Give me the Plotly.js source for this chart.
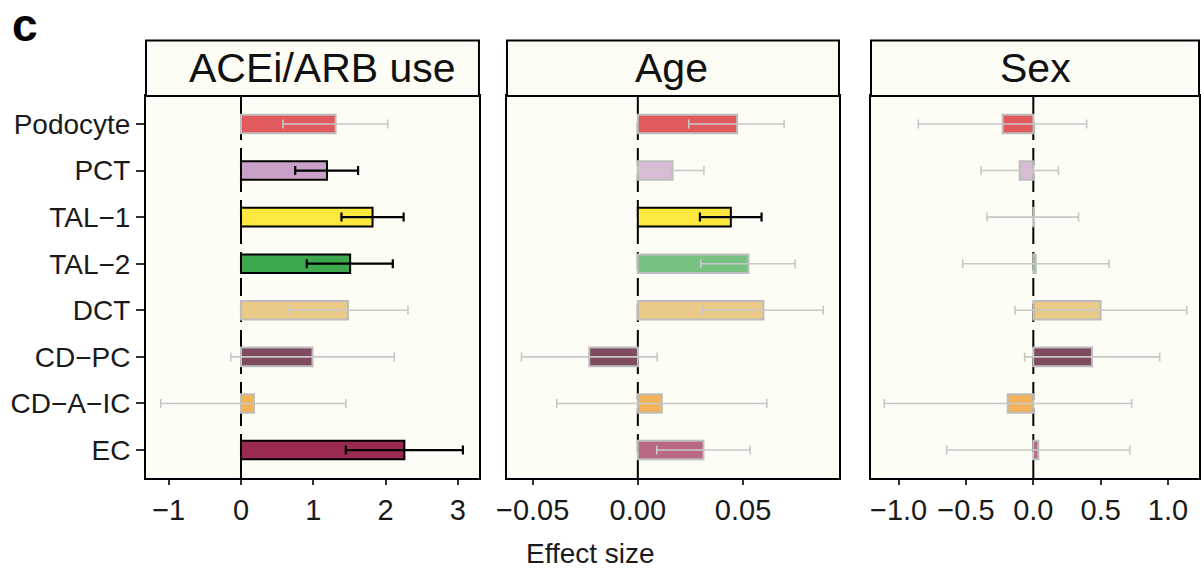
<!DOCTYPE html>
<html>
<head>
<meta charset="utf-8">
<script src="https://cdn.plot.ly/plotly-3.0.1.min.js"></script>
<style>html,body{margin:0;padding:0;background:#fff;}#chart{width:1201px;height:571px;}</style>
</head>
<body>
<div id="chart"></div>
<script>
// ---- data ----
const cellTypes = ['Podocyte','PCT','TAL\u22121','TAL\u22122','DCT','CD\u2212PC','CD\u2212A\u2212IC','EC'];
const panelTitles = ['ACEi/ARB use','Age','Sex'];
const axisTitle = 'Effect size';
const panelLabel = 'c';

const aceiEst = [1.31, 1.19, 1.82, 1.51, 1.48, 0.99, 0.18, 2.26];
const aceiLo  = [0.58, 0.75, 1.39, 0.91, 0.65, -0.14, -1.11, 1.45];
const aceiHi  = [2.03, 1.62, 2.25, 2.10, 2.31, 2.12, 1.45, 3.07];
const aceiSig = [false, true, true, true, false, false, false, true];

const ageEst = [0.0472, 0.0165, 0.0442, 0.0526, 0.0597, -0.0231, 0.0114, 0.0312];
const ageLo  = [0.0242, 0.0006, 0.0295, 0.0299, 0.0309, -0.0553, -0.0385, 0.0090];
const ageHi  = [0.0695, 0.0314, 0.0588, 0.0748, 0.0881, 0.0092, 0.0613, 0.0534];
const ageSig = [false, false, true, false, false, false, false, false];

const sexEst = [-0.227, -0.101, 0.004, 0.018, 0.500, 0.436, -0.190, 0.037];
const sexLo  = [-0.854, -0.388, -0.344, -0.524, -0.136, -0.064, -1.106, -0.643];
const sexHi  = [0.396, 0.186, 0.336, 0.562, 1.139, 0.938, 0.730, 0.716];
const sexSig = [false, false, false, false, false, false, false, false];

const aceiTicks = [-1, 0, 1, 2, 3];
const ageTicks = [-0.05, 0, 0.05];
const sexTicks = [-1, -0.5, 0, 0.5, 1];

// ---- style ----
const baseRGB = [[212,20,30],[200,160,200],[253,232,64],[61,168,78],[226,179,91],[72,0,31],[237,147,26],[155,42,82]];
const nsAlpha = 0.7;
const FONT = 'Liberation Sans, Arial, Helvetica, sans-serif';
const BG = '#FDFDF6';
const XTICKSIZE = 29;
const YTICKSIZE = 28;

const panels = [
  {est: aceiEst, lo: aceiLo, hi: aceiHi, sig: aceiSig, ticks: aceiTicks, fmt: 'd', range: [-1.314, 3.292], dom: [0, 0.3162]},
  {est: ageEst, lo: ageLo, hi: ageHi, sig: ageSig, ticks: ageTicks, fmt: '.2f', range: [-0.0622, 0.0956], dom: [0.3428, 0.6581]},
  {est: sexEst, lo: sexLo, hi: sexHi, sig: sexSig, ticks: sexTicks, fmt: '.1f', range: [-1.205, 1.230], dom: [0.6885, 1]}
];

const traces = [];
const layout = {
  width: 1201, height: 571,
  margin: {l: 146, r: 2, t: 96, b: 93},
  paper_bgcolor: '#ffffff',
  plot_bgcolor: BG,
  barmode: 'overlay',
  showlegend: false,
  font: {family: FONT, size: XTICKSIZE, color: '#1a1a1a'},
  shapes: [], annotations: []
};

panels.forEach((p, k) => {
  const xa = k === 0 ? 'x' : 'x' + (k + 1);
  const ya = k === 0 ? 'y' : 'y' + (k + 1);
  [true, false].forEach(flag => {
    const idx = cellTypes.map((c, i) => i).filter(i => p.sig[i] === flag);
    if (!idx.length) return;
    traces.push({
      type: 'bar', orientation: 'h', xaxis: xa, yaxis: ya,
      y: idx.map(i => cellTypes[i]),
      x: idx.map(i => p.est[i]),
      width: 0.4,
      marker: {
        color: idx.map(i => flag ? `rgb(${baseRGB[i].join(',')})` : `rgba(${baseRGB[i].join(',')},${nsAlpha})`),
        line: {color: flag ? '#000000' : '#BDBDBD', width: 2}
      },
      error_x: {
        type: 'data', symmetric: false,
        array: idx.map(i => p.hi[i] - p.est[i]),
        arrayminus: idx.map(i => p.est[i] - p.lo[i]),
        color: flag ? '#000000' : '#C8C8C8',
        thickness: flag ? 2.2 : 1.6,
        width: 4.5
      },
      hoverinfo: 'x+y'
    });
  });
  const axKey = k === 0 ? 'xaxis' : 'xaxis' + (k + 1);
  const ayKey = k === 0 ? 'yaxis' : 'yaxis' + (k + 1);
  layout[axKey] = {
    domain: p.dom, anchor: ya, range: p.range, autorange: false,
    tickmode: 'array', tickvals: p.ticks, tickformat: p.fmt,
    ticks: 'outside', ticklen: 5, tickwidth: 2, tickcolor: '#333333',
    showline: true, linecolor: '#000000', linewidth: 2, mirror: true,
    showgrid: false, zeroline: false,
    tickfont: {family: FONT, size: XTICKSIZE, color: '#1a1a1a'}
  };
  layout[ayKey] = {
    anchor: xa, domain: [0, 1],
    type: 'category', categoryorder: 'array', categoryarray: cellTypes,
    range: [7.6, -0.6], autorange: false,
    showline: true, linecolor: '#000000', linewidth: 2, mirror: true,
    showgrid: false, zeroline: false,
    ticks: k === 0 ? 'outside' : '', ticklen: 8, tickwidth: 2, tickcolor: '#333333',
    showticklabels: k === 0,
    ticklabelstandoff: 0,
    tickfont: {family: FONT, size: YTICKSIZE, color: '#1a1a1a'}
  };
  // dashed zero line
  layout.shapes.push({
    type: 'line', layer: 'below', xref: xa, yref: ya + ' domain',
    x0: 0, x1: 0, y0: 0, y1: 1,
    line: {color: '#000000', width: 2, dash: '18px,8px'}
  });
  // strip box
  layout.shapes.push({
    type: 'rect', xref: 'paper', yref: 'paper',
    x0: p.dom[0], x1: p.dom[1], y0: 1.0, y1: 1.145,
    fillcolor: BG, line: {color: '#000000', width: 2}
  });
});

const stripCenters = [0.1676, 0.4986, 0.8447];
panelTitles.forEach((t, k) => {
  layout.annotations.push({
    text: t, xref: 'paper', yref: 'paper', x: stripCenters[k], y: 1.0746,
    xanchor: 'center', yanchor: 'middle', showarrow: false,
    font: {family: FONT, size: 41, color: '#111111'}
  });
});
layout.annotations.push({
  text: axisTitle, xref: 'paper', yref: 'paper', x: 0.4217, y: -0.1965,
  xanchor: 'center', yanchor: 'middle', showarrow: false,
  font: {family: FONT, size: 28, color: '#1a1a1a'}
});
layout.annotations.push({
  text: '<b>' + panelLabel + '</b>', xref: 'paper', yref: 'paper', x: -0.129, y: 1.186,
  xanchor: 'left', yanchor: 'middle', height: 34, valign: 'middle', showarrow: false,
  font: {family: FONT, size: 46, color: '#000000'}
});

Plotly.newPlot('chart', traces, layout, {displayModeBar: false, staticPlot: true});
</script>
</body>
</html>
